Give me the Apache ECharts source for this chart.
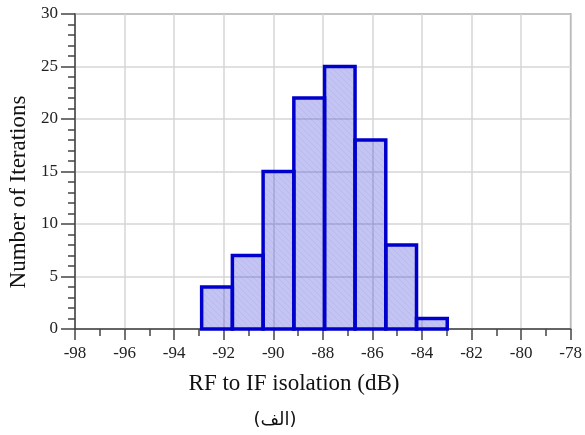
<!DOCTYPE html>
<html>
<head>
<meta charset="utf-8">
<script src="https://cdn.jsdelivr.net/npm/echarts@6/dist/echarts.min.js"></script>
<style>
  html, body { margin: 0; padding: 0; background: #fff; }
  #chart { width: 585px; height: 435px; }
</style>
</head>
<body>
<div id="chart"></div>
<script>
// Histogram of RF-to-IF isolation over Monte Carlo iterations
const binEdges = [-92.89, -91.65, -90.41, -89.17, -87.93, -86.70, -85.46, -84.22, -82.98];
const counts = [4, 7, 15, 22, 25, 18, 8, 1];
const xTicks = { min: -98, max: -78, step: 2 };
const yTicks = { min: 0, max: 30, step: 5 };
const xTitle = 'RF to IF isolation (dB)';
const yTitle = 'Number of Iterations';
const caption = '(الف)';

const bins = counts.map((n, i) => [binEdges[i], binEdges[i + 1], n]);

// faint diagonal hatch laid over the bar fill
const hatch = document.createElement('canvas');
hatch.width = 6; hatch.height = 6;
(function () {
  const c = hatch.getContext('2d');
  c.strokeStyle = 'rgba(0,0,160,0.05)';
  c.lineWidth = 1;
  c.beginPath();
  c.moveTo(-1, -1); c.lineTo(7, 7);
  c.moveTo(-4, 2); c.lineTo(4, 10);
  c.moveTo(2, -4); c.lineTo(10, 4);
  c.stroke();
})();

const serif = '"Liberation Serif", "DejaVu Serif", serif';
const chart = echarts.init(document.getElementById('chart'), null, { renderer: 'canvas' });

chart.setOption({
  animation: false,
  grid: {
    left: 75, right: 12, top: 14, bottom: 106,
    show: true, borderColor: '#6a6a6a', borderWidth: 1.5, backgroundColor: 'transparent'
  },
  xAxis: {
    type: 'value', min: xTicks.min, max: xTicks.max, interval: xTicks.step,
    axisLine: { show: true, onZero: false, lineStyle: { color: '#444', width: 1.5 } },
    axisTick: { show: true, length: 11, lineStyle: { color: '#444', width: 1.5 } },
    minorTick: { show: true, splitNumber: 2, length: 7, lineStyle: { color: '#444', width: 1.5 } },
    splitLine: { show: true, lineStyle: { color: '#d6d6d6', width: 1.5 } },
    axisLabel: { color: '#222', fontFamily: serif, fontSize: 17, margin: 16 }
  },
  yAxis: {
    type: 'value', min: yTicks.min, max: yTicks.max, interval: yTicks.step,
    axisLine: { show: true, lineStyle: { color: '#444', width: 1.5 } },
    axisTick: { show: true, length: 14, lineStyle: { color: '#444', width: 1.5 } },
    minorTick: { show: true, splitNumber: 5, length: 7, lineStyle: { color: '#444', width: 1.5 } },
    splitLine: { show: true, lineStyle: { color: '#d6d6d6', width: 1.5 } },
    axisLabel: { color: '#222', fontFamily: serif, fontSize: 17, margin: 17 }
  },
  series: [{
    type: 'custom',
    data: bins,
    encode: { x: [0, 1], y: 2 },
    renderItem: function (params, api) {
      const top = api.coord([api.value(0), api.value(2)]);
      const base = api.coord([api.value(1), 0]);
      const shape = { x: top[0], y: top[1], width: base[0] - top[0], height: base[1] - top[1] };
      return {
        type: 'group',
        children: [
          { type: 'rect', shape: shape, style: { fill: 'rgba(0,0,204,0.23)' } },
          { type: 'rect', shape: shape, style: { fill: { image: hatch, repeat: 'repeat' }, stroke: '#0000cc', lineWidth: 3.5 } }
        ]
      };
    }
  }],
  graphic: [
    {
      type: 'text', z: 10, x: 294, y: 384,
      style: { text: xTitle, font: '23px ' + serif, fill: '#111', align: 'center', verticalAlign: 'middle' }
    },
    {
      type: 'text', z: 10, x: 19, y: 192, rotation: Math.PI / 2,
      style: { text: yTitle, font: '23px ' + serif, fill: '#111', align: 'center', verticalAlign: 'middle' }
    },
    {
      type: 'text', z: 10, x: 275, y: 420,
      style: { text: caption, font: '18px "DejaVu Sans", sans-serif', fill: '#111', align: 'center', verticalAlign: 'middle' }
    }
  ]
});
</script>
</body>
</html>
